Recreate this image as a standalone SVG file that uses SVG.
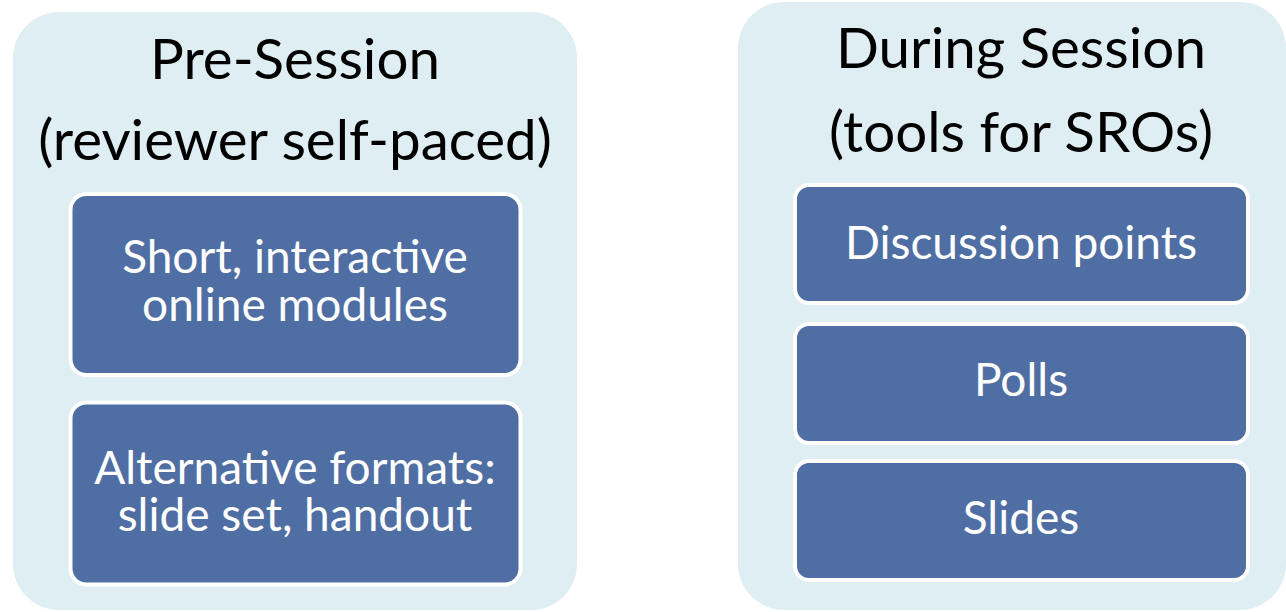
<svg xmlns="http://www.w3.org/2000/svg" width="1286" height="612" viewBox="0 0 1286 612">
<style>
.cont{fill:#DEEEF2;}
.box{fill:#4F6EA3;stroke:#FFFFFF;stroke-width:4;}
.title{font-family:Lato,"Open Sans",sans-serif;font-size:56.5px;fill:#000;text-anchor:middle;}
.lbl{font-family:Lato,"Open Sans",sans-serif;font-size:46px;fill:#FFF;text-anchor:middle;}
</style>
<rect width="1286" height="612" fill="#FFFFFF"/>
<g id="pre-session">
<rect class="cont" x="13" y="12" width="564" height="598" rx="46"/>
<text class="title" x="295" y="79">Pre-Session</text>
<text class="title" x="295" y="160">(reviewer self-paced)</text>
</g>
<g id="modules">
<rect class="box" x="70.5" y="194" width="450" height="181" rx="16"/>
<text class="lbl" x="295" y="273">Short, interactive</text>
<text class="lbl" x="295" y="321">online modules</text>
</g>
<g id="formats">
<rect class="box" x="70.5" y="402.5" width="450" height="182" rx="16"/>
<text class="lbl" x="295" y="484">Alternative formats:</text>
<text class="lbl" x="295" y="531">slide set, handout</text>
</g>
<g id="during-session">
<rect class="cont" x="738" y="2" width="548" height="608" rx="46"/>
<text class="title" x="1021" y="68">During Session</text>
<text class="title" x="1021" y="152">(tools for SROs)</text>
</g>
<g id="discussion">
<rect class="box" x="795" y="185" width="453" height="118" rx="14"/>
<text class="lbl" x="1021" y="259">Discussion points</text>
</g>
<g id="polls">
<rect class="box" x="795" y="324" width="453" height="119" rx="14"/>
<text class="lbl" x="1021" y="396">Polls</text>
</g>
<g id="slides">
<rect class="box" x="795" y="461" width="453" height="119" rx="14"/>
<text class="lbl" x="1021" y="534">Slides</text>
</g>
<g id="connectors"></g>
</svg>
